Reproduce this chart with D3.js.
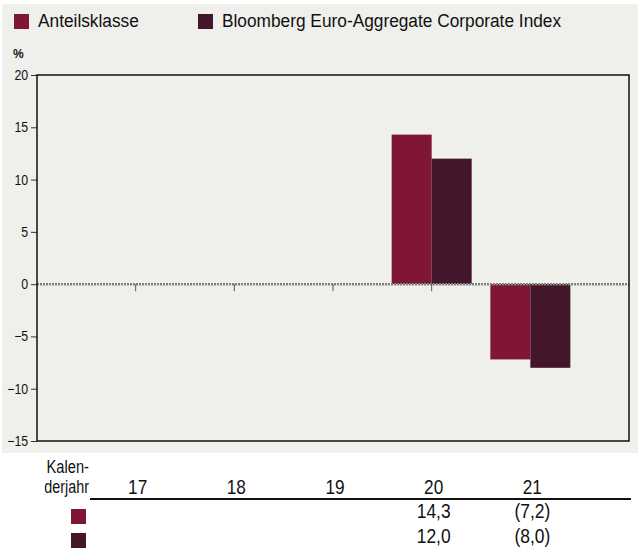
<!DOCTYPE html>
<html>
<head>
<meta charset="utf-8">
<script src="https://cdn.jsdelivr.net/npm/d3@7"></script>
<style>
  html, body { margin: 0; padding: 0; background: #fff; }
  svg { display: block; font-family: "Liberation Sans", Arial, sans-serif; }
</style>
</head>
<body>
<div id="chart"></div>
<script>
var years = ["17", "18", "19", "20", "21"];
var seriesNames = ["Anteilsklasse", "Bloomberg Euro-Aggregate Corporate Index"];
var fundValues = [null, null, null, 14.3, -7.2];
var indexValues = [null, null, null, 12.0, -8.0];
var fundLabels = ["", "", "", "14,3", "(7,2)"];
var indexLabels = ["", "", "", "12,0", "(8,0)"];
var yTicks = [20, 15, 10, 5, 0, -5, -10, -15];
var colors = ["#7f1734", "#43162a"];

var W = 638, H = 548;
var plot = { left: 37, right: 629, top: 75, bottom: 441 };

var svg = d3.select("#chart").append("svg")
  .attr("width", W).attr("height", H);

// the original uses a condensed face, so squeeze Liberation Sans horizontally
function label(parent, x, y, str, size, sx, anchor) {
  return parent.append("text")
    .attr("transform", "translate(" + x + "," + y + ") scale(" + sx + ",1)")
    .attr("font-size", size)
    .attr("text-anchor", anchor || "start")
    .attr("fill", "#111")
    .text(str);
}

svg.append("rect")
  .attr("x", 2).attr("y", 4).attr("width", W - 2).attr("height", 449)
  .attr("fill", "#efefeb");

// one empty slot each side, years sit on slot boundaries
var x = d3.scaleLinear().domain([-1, 5]).range([plot.left, plot.right]);
var y = d3.scaleLinear().domain([-15, 20]).range([plot.bottom, plot.top]);
var barW = 40;

// legend
var leg = svg.append("g");
[0, 1].forEach(function (i) {
  var lx = i === 0 ? 14 : 198;
  leg.append("rect").attr("x", lx).attr("y", 14).attr("width", 15).attr("height", 15)
    .attr("fill", colors[i]);
  label(leg, lx + 24, 27, seriesNames[i], 19, 0.91);
});

svg.append("text").attr("x", 13).attr("y", 58)
  .attr("font-size", 12).attr("font-weight", "bold").attr("fill", "#111").text("%");

// y axis
var yAxis = svg.append("g")
  .attr("transform", "translate(" + plot.left + ",0)")
  .call(d3.axisLeft(y).tickValues(yTicks).tickSize(6).tickPadding(4));
yAxis.select(".domain").remove();
yAxis.selectAll("line").attr("stroke", "#333");
yAxis.selectAll("text").attr("font-size", 14).attr("fill", "#111")
  .attr("font-family", null)
  .attr("transform", "scale(0.88,1)");

// bars
var bars = svg.append("g");
[fundValues, indexValues].forEach(function (vals, s) {
  bars.selectAll(".b" + s)
    .data(vals.map(function (v, i) { return { v: v, i: i }; }).filter(function (d) { return d.v !== null; }))
    .enter().append("rect")
    .attr("x", function (d) { return x(d.i) - barW + s * barW; })
    .attr("y", function (d) { return y(Math.max(0, d.v)); })
    .attr("width", barW)
    .attr("height", function (d) { return Math.abs(y(d.v) - y(0)); })
    .attr("fill", colors[s]);
});

// zero line with ticks
svg.append("line")
  .attr("x1", plot.left).attr("x2", plot.right)
  .attr("y1", y(0)).attr("y2", y(0))
  .attr("stroke", "#808080").attr("stroke-width", 2.5)
  .attr("stroke-dasharray", "2,1");
svg.append("g").selectAll("line").data(years).enter().append("line")
  .attr("x1", function (d, i) { return x(i); })
  .attr("x2", function (d, i) { return x(i); })
  .attr("y1", y(0)).attr("y2", y(0) + 7)
  .attr("stroke", "#555").attr("stroke-width", 1);

// frame
svg.append("rect")
  .attr("x", plot.left).attr("y", plot.top)
  .attr("width", plot.right - plot.left).attr("height", plot.bottom - plot.top)
  .attr("fill", "none").attr("stroke", "#111").attr("stroke-width", 1.5);

// table
var tbl = svg.append("g");
label(tbl, 89, 473, "Kalen-", 17.5, 0.84, "end");
label(tbl, 89, 493, "derjahr", 17.5, 0.82, "end");
years.forEach(function (d, i) {
  label(tbl, x(i) + 2, 494, d, 21, 0.82, "middle");
});
tbl.append("line").attr("x1", 90).attr("x2", 631).attr("y1", 499).attr("y2", 499)
  .attr("stroke", "#111").attr("stroke-width", 2);
[fundLabels, indexLabels].forEach(function (labs, s) {
  var ry = 509 + s * 24;
  tbl.append("rect").attr("x", 71).attr("y", ry).attr("width", 15).attr("height", 15)
    .attr("fill", colors[s]);
  labs.forEach(function (d, i) {
    if (d) label(tbl, x(i) + 2, 518 + s * 25, d, 21, 0.83, "middle");
  });
});
</script>
</body>
</html>
